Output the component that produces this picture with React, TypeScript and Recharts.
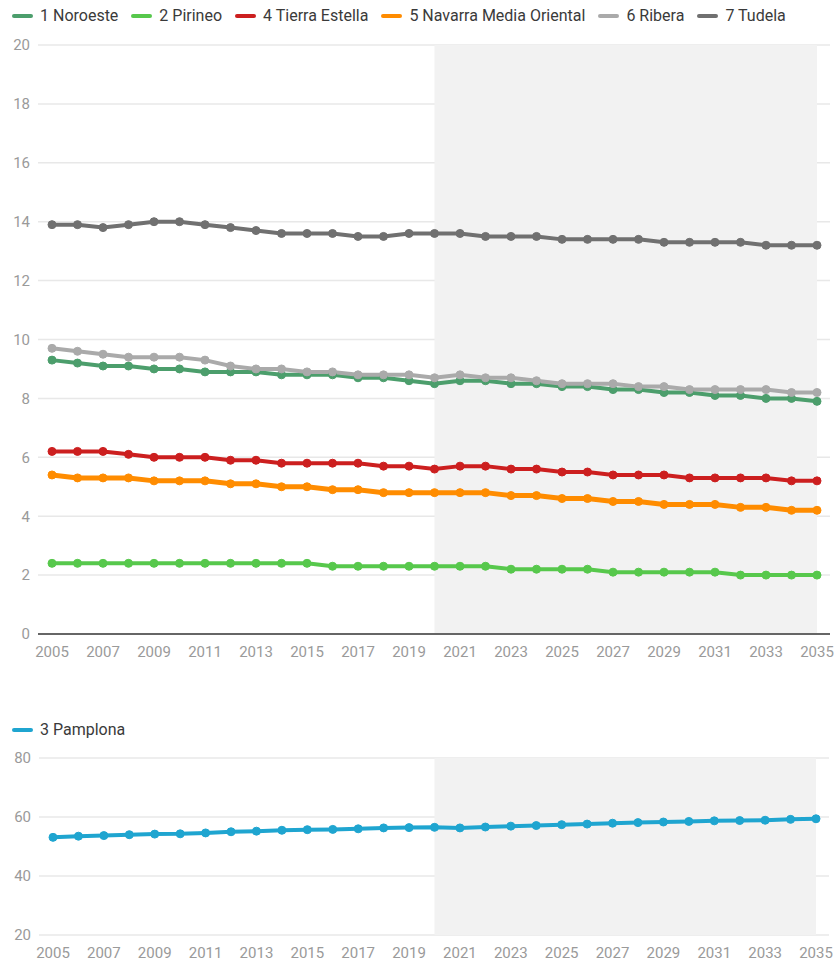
import React from "react";
import { LineChart, Line, XAxis, YAxis, CartesianGrid, ReferenceArea } from "recharts";

const years = [2005, 2006, 2007, 2008, 2009, 2010, 2011, 2012, 2013, 2014, 2015, 2016, 2017, 2018, 2019, 2020, 2021, 2022, 2023, 2024, 2025, 2026, 2027, 2028, 2029, 2030, 2031, 2032, 2033, 2034, 2035];
const xTicks = [2005, 2007, 2009, 2011, 2013, 2015, 2017, 2019, 2021, 2023, 2025, 2027, 2029, 2031, 2033, 2035];
const topYTicks = [0, 2, 4, 6, 8, 10, 12, 14, 16, 18, 20];
const bottomYTicks = [20, 40, 60, 80];

const noroeste = [9.3, 9.2, 9.1, 9.1, 9.0, 9.0, 8.9, 8.9, 8.9, 8.8, 8.8, 8.8, 8.7, 8.7, 8.6, 8.5, 8.6, 8.6, 8.5, 8.5, 8.4, 8.4, 8.3, 8.3, 8.2, 8.2, 8.1, 8.1, 8.0, 8.0, 7.9];
const pirineo = [2.4, 2.4, 2.4, 2.4, 2.4, 2.4, 2.4, 2.4, 2.4, 2.4, 2.4, 2.3, 2.3, 2.3, 2.3, 2.3, 2.3, 2.3, 2.2, 2.2, 2.2, 2.2, 2.1, 2.1, 2.1, 2.1, 2.1, 2.0, 2.0, 2.0, 2.0];
const tierraEstella = [6.2, 6.2, 6.2, 6.1, 6.0, 6.0, 6.0, 5.9, 5.9, 5.8, 5.8, 5.8, 5.8, 5.7, 5.7, 5.6, 5.7, 5.7, 5.6, 5.6, 5.5, 5.5, 5.4, 5.4, 5.4, 5.3, 5.3, 5.3, 5.3, 5.2, 5.2];
const navarraMedia = [5.4, 5.3, 5.3, 5.3, 5.2, 5.2, 5.2, 5.1, 5.1, 5.0, 5.0, 4.9, 4.9, 4.8, 4.8, 4.8, 4.8, 4.8, 4.7, 4.7, 4.6, 4.6, 4.5, 4.5, 4.4, 4.4, 4.4, 4.3, 4.3, 4.2, 4.2];
const ribera = [9.7, 9.6, 9.5, 9.4, 9.4, 9.4, 9.3, 9.1, 9.0, 9.0, 8.9, 8.9, 8.8, 8.8, 8.8, 8.7, 8.8, 8.7, 8.7, 8.6, 8.5, 8.5, 8.5, 8.4, 8.4, 8.3, 8.3, 8.3, 8.3, 8.2, 8.2];
const tudela = [13.9, 13.9, 13.8, 13.9, 14.0, 14.0, 13.9, 13.8, 13.7, 13.6, 13.6, 13.6, 13.5, 13.5, 13.6, 13.6, 13.6, 13.5, 13.5, 13.5, 13.4, 13.4, 13.4, 13.4, 13.3, 13.3, 13.3, 13.3, 13.2, 13.2, 13.2];
const pamplona = [53.1, 53.5, 53.7, 54.0, 54.2, 54.3, 54.6, 55.0, 55.2, 55.5, 55.7, 55.8, 56.0, 56.3, 56.4, 56.5, 56.3, 56.6, 56.9, 57.1, 57.4, 57.6, 57.9, 58.1, 58.3, 58.5, 58.7, 58.8, 58.9, 59.2, 59.4];

const projectionStart = 2020;
const projectionEnd = 2035;

const topSeries = [
  { key: "noroeste", name: "1 Noroeste", color: "#4c9e6c", values: noroeste, width: 4 },
  { key: "pirineo", name: "2 Pirineo", color: "#57c84c", values: pirineo, width: 4 },
  { key: "tierra", name: "4 Tierra Estella", color: "#cc1f1f", values: tierraEstella, width: 4 },
  { key: "navarra", name: "5 Navarra Media Oriental", color: "#ff8c00", values: navarraMedia, width: 5 },
  { key: "ribera", name: "6 Ribera", color: "#aaaaaa", values: ribera, width: 4 },
  { key: "tudela", name: "7 Tudela", color: "#707070", values: tudela, width: 4 },
];
const bottomSeries = [
  { key: "pamplona", name: "3 Pamplona", color: "#1fa5d0", values: pamplona, width: 4 },
];

const topData = years.map((y, i) => {
  const row: any = { year: y };
  topSeries.forEach((s) => (row[s.key] = s.values[i]));
  return row;
});
const bottomData = years.map((y, i) => {
  const row: any = { year: y };
  bottomSeries.forEach((s) => (row[s.key] = s.values[i]));
  return row;
});

const FONT = "Roboto, 'Noto Sans', sans-serif";
const tickStyle = { fill: "#9a9a9a", fontSize: 15, fontFamily: FONT };

function LegendRow({ items, top }: { items: any[]; top: number }) {
  return (
    <div style={{ position: "absolute", left: 12, top, display: "flex", alignItems: "center", fontFamily: FONT, fontSize: 16, lineHeight: "20px", color: "#3a3a3a" }}>
      {items.map((s) => (
        <div key={s.key} style={{ display: "flex", alignItems: "center", marginRight: 13 }}>
          <div style={{ width: 21, height: 4.5, borderRadius: 3, background: s.color, marginRight: 7 }} />
          <span>{s.name}</span>
        </div>
      ))}
    </div>
  );
}

export default function App() {
  return (
    <div style={{ position: "absolute", left: 0, top: 0, width: 837, height: 964, background: "#fff", fontFamily: FONT }}>
      <LegendRow items={topSeries} top={6} />
      <div style={{ position: "absolute", left: 0, top: 0 }}>
        <LineChart width={837} height={680} data={topData} margin={{ top: 45, right: 7, left: 0, bottom: 0 }}>
          <ReferenceArea x1={projectionStart} x2={projectionEnd} fill="#f2f2f2" fillOpacity={1} stroke="none" ifOverflow="extendDomain" />
          <CartesianGrid vertical={false} stroke="#e8e8e8" strokeWidth={1.5} />
          <XAxis
            dataKey="year"
            type="number"
            domain={[2005, 2035]}
            ticks={xTicks}
            padding={{ left: 14, right: 13 }}
            tickLine={false}
            axisLine={{ stroke: "#666", strokeWidth: 2 }}
            tick={tickStyle}
            tickMargin={6}
            height={46}
            interval={0}
          />
          <YAxis domain={[0, 20]} ticks={topYTicks} tickLine={false} axisLine={false} tick={tickStyle} width={38} interval={0} />
          {topSeries.map((s) => (
            <Line
              key={s.key}
              type="linear"
              dataKey={s.key}
              name={s.name}
              stroke={s.color}
              strokeWidth={s.width}
              dot={{ r: 4, fill: s.color, stroke: s.color, strokeWidth: 1 }}
              activeDot={false}
              isAnimationActive={false}
            />
          ))}
        </LineChart>
      </div>
      <LegendRow items={bottomSeries} top={720} />
      <div style={{ position: "absolute", left: 0, top: 740 }}>
        <LineChart width={837} height={224} data={bottomData} margin={{ top: 18, right: 8, left: 0, bottom: 0 }}>
          <ReferenceArea x1={projectionStart} x2={projectionEnd} fill="#f2f2f2" fillOpacity={1} stroke="none" ifOverflow="extendDomain" />
          <CartesianGrid vertical={false} stroke="#e8e8e8" strokeWidth={1.5} />
          <XAxis
            dataKey="year"
            type="number"
            domain={[2005, 2035]}
            ticks={xTicks}
            padding={{ left: 14, right: 13 }}
            tickLine={false}
            axisLine={false}
            tick={tickStyle}
            tickMargin={6}
            height={29}
            interval={0}
          />
          <YAxis domain={[20, 80]} ticks={bottomYTicks} tickLine={false} axisLine={false} tick={tickStyle} width={39} interval={0} />
          {bottomSeries.map((s) => (
            <Line
              key={s.key}
              type="linear"
              dataKey={s.key}
              name={s.name}
              stroke={s.color}
              strokeWidth={s.width}
              dot={{ r: 4, fill: s.color, stroke: s.color, strokeWidth: 1 }}
              activeDot={false}
              isAnimationActive={false}
            />
          ))}
        </LineChart>
      </div>
    </div>
  );
}
